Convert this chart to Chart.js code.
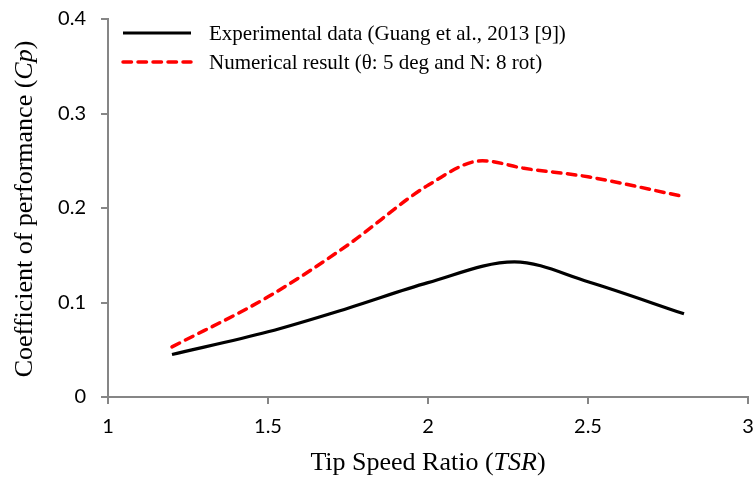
<!DOCTYPE html>
<html>
<head>
<meta charset="utf-8">
<script src="https://cdn.jsdelivr.net/npm/chart.js@4.4.1/dist/chart.umd.min.js"></script>
<style>
html,body{margin:0;padding:0;background:#fff;}
#wrap{position:relative;width:753px;height:479px;}
</style>
</head>
<body>
<div id="wrap"><canvas id="c" width="753" height="479"></canvas></div>
<script>
// ---- data ----
const expTSR = [1.2, 1.5, 1.75, 2.0, 2.27, 2.5, 2.8];
const expCp  = [0.045, 0.069, 0.094, 0.121, 0.143, 0.122, 0.088];
const numTSR = [1.2, 1.5, 1.75, 2.0, 2.17, 2.3, 2.5, 2.8];
const numCp  = [0.053, 0.106, 0.161, 0.224, 0.250, 0.242, 0.233, 0.212];
const seriesLabels = ["Experimental data (Guang et al., 2013 [9])", "Numerical result (\u03b8: 5 deg and N: 8 rot)"];
const xTicks = [1, 1.5, 2, 2.5, 3];
const yTicks = [0, 0.1, 0.2, 0.3, 0.4];

const SERIF = '"Liberation Serif", "Times New Roman", serif';
const SANS = 'Lato, "Liberation Sans", sans-serif';
const AXIS = '#868686';

function pts(xs, ys){ return xs.map((x,i)=>({x:x, y:ys[i]})); }

const titlesPlugin = {
  id:'titles',
  afterDraw(chart){
    const ctx = chart.ctx;
    ctx.save();
    ctx.fillStyle = '#000';
    ctx.textBaseline = 'middle';
    // legend (inside plot)
    const ds = chart.data.datasets;
    const legY = [33, 62];
    ds.forEach((d,i)=>{
      ctx.save();
      ctx.strokeStyle = d.borderColor;
      ctx.lineWidth = d.borderWidth;
      ctx.lineCap = d.borderCapStyle || 'butt';
      ctx.setLineDash(d.borderDash || []);
      ctx.beginPath();
      ctx.moveTo(123, legY[i]); ctx.lineTo(191, legY[i]);
      ctx.stroke();
      ctx.restore();
      ctx.font = '21px ' + SERIF;
      ctx.textAlign = 'left';
      ctx.fillText(d.label, 209, legY[i]+1);
    });
    function drawMixed(parts, cx, cy){
      let total = 0;
      parts.forEach(p=>{ ctx.font = p.f; p.w = ctx.measureText(p.t).width; total += p.w; });
      let x = cx - total/2;
      ctx.textAlign = 'left';
      parts.forEach(p=>{ ctx.font = p.f; ctx.fillText(p.t, x, cy); x += p.w; });
    }
    const n = '26px ' + SERIF, it = 'italic 26px ' + SERIF;
    // x title
    drawMixed([{t:'Tip Speed Ratio (',f:n},{t:'TSR',f:it},{t:')',f:n}], 428, 463);
    // y title
    ctx.translate(25, 209);
    ctx.rotate(-Math.PI/2);
    drawMixed([{t:'Coefficient of performance (',f:n},{t:'Cp',f:it},{t:')',f:n}], 0, 0);
    ctx.restore();
  }
};

new Chart(document.getElementById('c'), {
  type:'line',
  data:{
    datasets:[
      {label:seriesLabels[0], data:pts(expTSR, expCp), borderColor:'#000000', borderWidth:3.2,
       pointRadius:0, tension:0.4, cubicInterpolationMode:'monotone', fill:false},
      {label:seriesLabels[1], data:pts(numTSR, numCp), borderColor:'#ff0000', borderWidth:3.5,
       borderDash:[8.5,6.5], borderCapStyle:'round', pointRadius:0, tension:0.4,
       cubicInterpolationMode:'monotone', fill:false}
    ]
  },
  options:{
    responsive:false,
    animation:false,
    devicePixelRatio:1,
    layout:{padding:{left:0, right:5, top:19, bottom:0}},
    plugins:{legend:{display:false}, tooltip:{enabled:false}, title:{display:false}},
    scales:{
      x:{
        type:'linear', min:1, max:3,
        afterBuildTicks(s){ s.ticks = xTicks.map(v=>({value:v})); },
        afterFit(s){ s.height = 82; s.paddingLeft = 0; s.paddingRight = 0; },
        border:{color:AXIS, width:2},
        grid:{drawOnChartArea:false, drawTicks:true, tickLength:7, color:AXIS, lineWidth:2},
        ticks:{color:'#000', font:{family:SANS, size:20}, padding:11, maxRotation:0,
               callback:v=>String(v)}
      },
      y:{
        type:'linear', min:0, max:0.4,
        afterBuildTicks(s){ s.ticks = yTicks.map(v=>({value:v})); },
        afterFit(s){ s.width = 108; s.paddingTop = 0; s.paddingBottom = 0; },
        border:{color:AXIS, width:2},
        grid:{drawOnChartArea:false, drawTicks:true, tickLength:7, color:AXIS, lineWidth:2},
        ticks:{color:'#000', font:{family:SANS, size:20}, padding:15,
               callback:v=>String(Math.round(v*10)/10)}
      }
    }
  },
  plugins:[titlesPlugin]
});
</script>
</body>
</html>
